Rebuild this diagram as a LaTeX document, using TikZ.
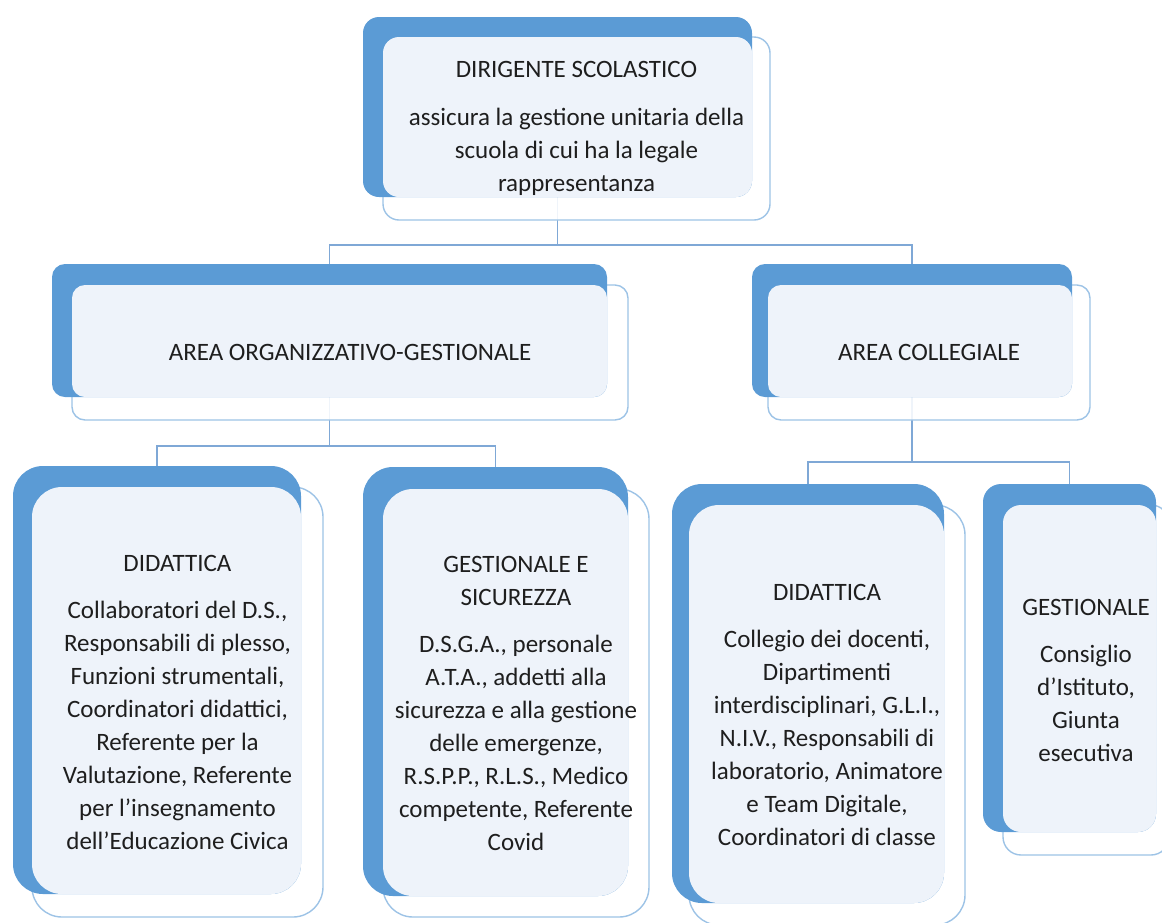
\documentclass[tikz,border=0pt]{standalone}
\usepackage{fontspec}
\setmainfont{Carlito}
\usetikzlibrary{backgrounds}

\definecolor{cardblue}{HTML}{5B9BD5}
\definecolor{cardline}{HTML}{9DC3E6}
\definecolor{cardpale}{HTML}{EEF3FA}
\definecolor{linkblue}{HTML}{7FA8D6}
\definecolor{ink}{HTML}{1E1E1E}

\begin{document}
\begin{tikzpicture}[
  x=1pt, y=-1pt,
  back/.style={rectangle, fill=cardblue, anchor=north west, inner sep=0pt, outer sep=0pt},
  front/.style={rectangle, draw=cardline, line width=1.4pt, fill=white, fill opacity=0.88,
    anchor=north west, inner sep=0pt, outer sep=0pt},
  tint/.style={fill=cardpale},
  link/.style={draw=linkblue, line width=1.4pt},
  label/.style={align=center, text=ink, font=\fontsize{25}{33}\selectfont}
  ]
  \useasboundingbox (0,0) rectangle (1162,922);

  % dirigente
  \node[front, rounded corners=16, minimum width=387, minimum height=183] (dsF) at (383,37) {};
  \node[back, rounded corners=16, minimum width=389, minimum height=180] (dsB) at (363,17) {};
  \fill[tint, rounded corners=16] (dsF.north west) rectangle (dsB.south east);
  \node[label] (ds) at (dsF.center) {DIRIGENTE SCOLASTICO\\[15pt]
    assicura la gestione unitaria della\\scuola di cui ha la legale\\rappresentanza};

  % aree
  \node[front, rounded corners=13, minimum width=556, minimum height=135] (aogF) at (72,285) {};
  \node[back, rounded corners=13, minimum width=555, minimum height=133] (aogB) at (52,264) {};
  \fill[tint, rounded corners=13] (aogF.north west) rectangle (aogB.south east);
  \node[label] (aog) at (aogF.center) {AREA ORGANIZZATIVO-GESTIONALE};

  \node[front, rounded corners=13, minimum width=322, minimum height=135] (acoF) at (768,285) {};
  \node[back, rounded corners=13, minimum width=320, minimum height=133] (acoB) at (752,264) {};
  \fill[tint, rounded corners=13] (acoF.north west) rectangle (acoB.south east);
  \node[label] (aco) at (acoF.center) {AREA COLLEGIALE};

  % settori
  \node[front, rounded corners=30, minimum width=291, minimum height=430] (didaF) at (32,487) {};
  \node[back, rounded corners=30, minimum width=288, minimum height=428] (didaB) at (13,466) {};
  \fill[tint, rounded corners=30] (didaF.north west) rectangle (didaB.south east);
  \node[label] (dida) at (didaF.center) {DIDATTICA\\[14pt]
    Collaboratori del D.S.,\\Responsabili di plesso,\\Funzioni strumentali,\\Coordinatori didattici,\\
    Referente per la\\Valutazione, Referente\\per l’insegnamento\\dell’Educazione Civica};

  \node[front, rounded corners=30, minimum width=266, minimum height=428] (gesaF) at (383,489) {};
  \node[back, rounded corners=30, minimum width=265, minimum height=429] (gesaB) at (363,467) {};
  \fill[tint, rounded corners=30] (gesaF.north west) rectangle (gesaB.south east);
  \node[label] (gesa) at (gesaF.center) {GESTIONALE E\\SICUREZZA\\[14pt]
    D.S.G.A., personale\\A.T.A., addetti alla\\sicurezza e alla gestione\\delle emergenze,\\
    R.S.P.P., R.L.S., Medico\\competente, Referente\\Covid};

  \node[front, rounded corners=30, minimum width=276, minimum height=420] (didcF) at (689,505) {};
  \node[back, rounded corners=30, minimum width=272, minimum height=419] (didcB) at (672,484) {};
  \fill[tint, rounded corners=30] (didcF.north west) rectangle (didcB.south east);
  \node[label] (didc) at (didcF.center) {DIDATTICA\\[14pt]
    Collegio dei docenti,\\Dipartimenti\\interdisciplinari, G.L.I.,\\N.I.V., Responsabili di\\
    laboratorio, Animatore\\e Team Digitale,\\Coordinatori di classe};

  \node[front, rounded corners=18, minimum width=166, minimum height=350] (gescF) at (1003,505) {};
  \node[back, rounded corners=18, minimum width=173, minimum height=348] (gescB) at (983,484) {};
  \fill[tint, rounded corners=18] (gescF.north west) rectangle (gescB.south east);
  \node[label] (gesc) at (gescF.center) {GESTIONALE\\[14pt]
    Consiglio\\d’Istituto,\\Giunta\\esecutiva};

  % connettori
  \begin{scope}[on background layer]
    \draw[link] (dsB.south) |- (330,245) -| (aogB.north);
    \draw[link] (dsB.south) |- (912,245) -| (acoB.north);
    \draw[link] (aogB.south) |- (157,446) -| (didaB.north);
    \draw[link] (aogB.south) |- (495,446) -| (gesaB.north);
    \draw[link] (acoB.south) |- (808,462) -| (didcB.north);
    \draw[link] (acoB.south) |- (1068,462) -| (gescB.north);
  \end{scope}
\end{tikzpicture}
\end{document}
